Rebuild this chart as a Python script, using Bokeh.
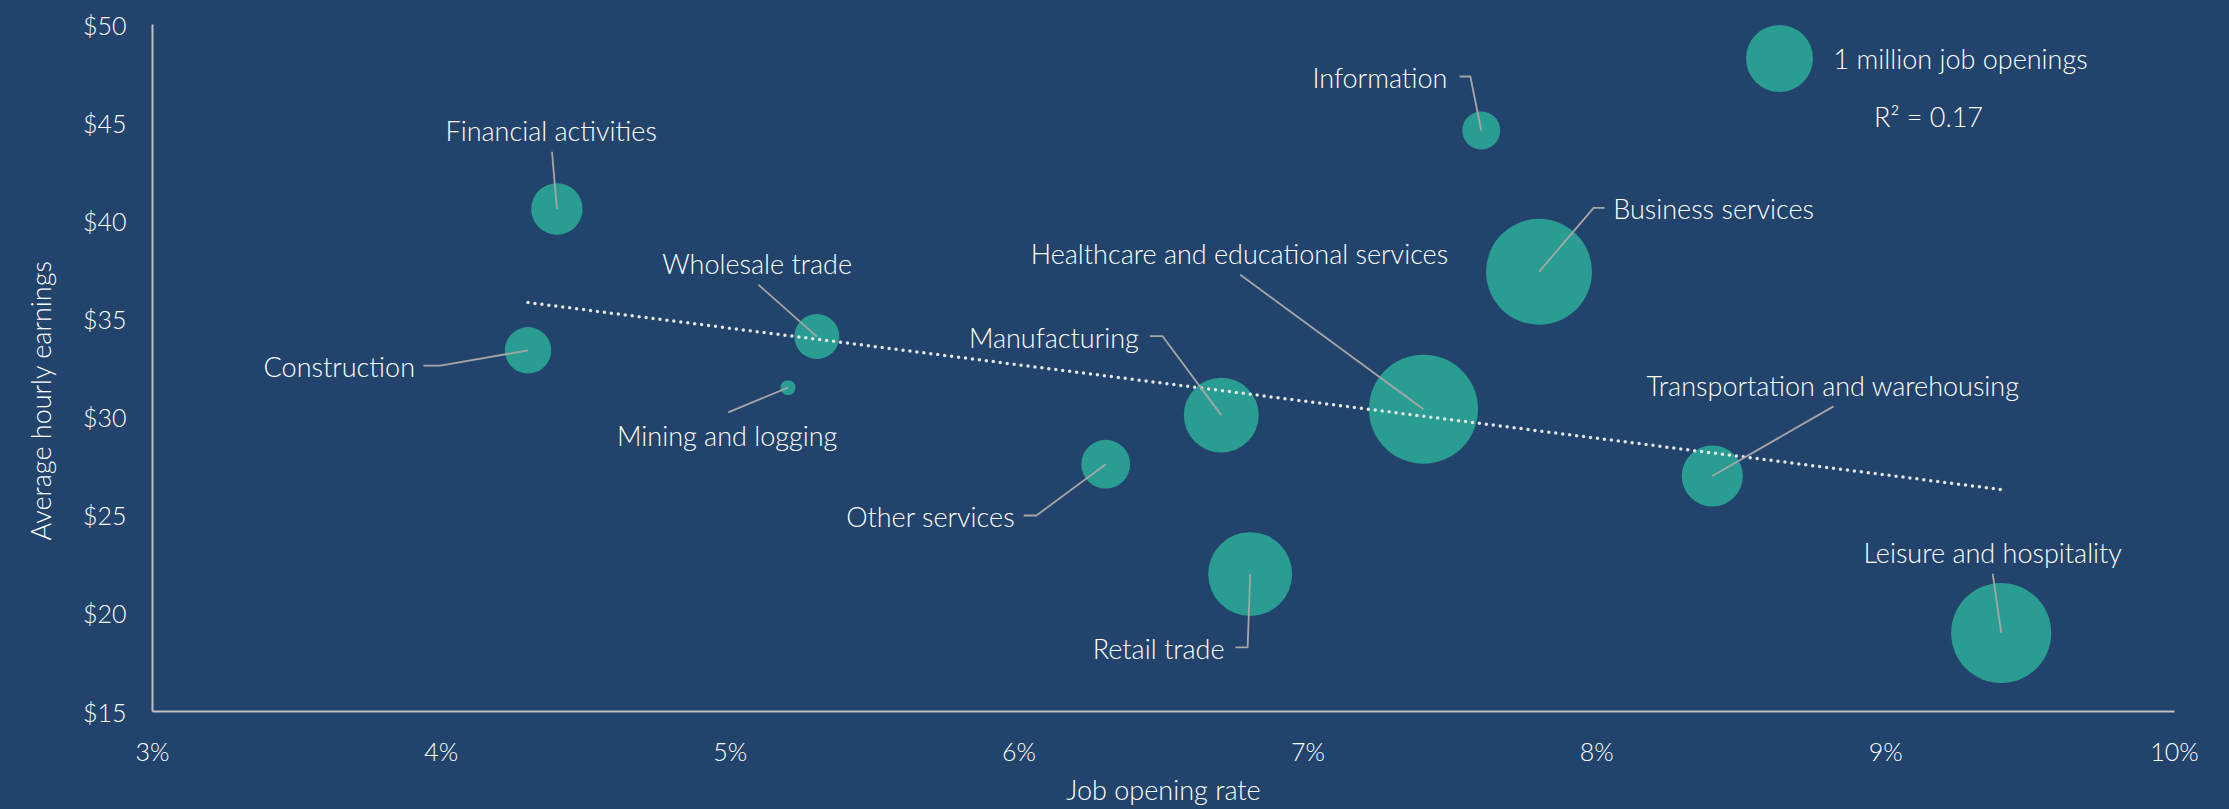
import numpy as np
from bokeh.plotting import figure
from bokeh.models import ColumnDataSource, LabelSet, Label, Range1d, Title
from bokeh.embed import file_html
from bokeh.resources import INLINE
from bokeh.core.properties import value

# ---------------- data ----------------
industries = ["Financial activities", "Construction", "Wholesale trade", "Mining and logging",
              "Other services", "Manufacturing", "Retail trade",
              "Healthcare and educational services", "Information", "Business services",
              "Transportation and warehousing", "Leisure and hospitality"]
job_opening_rate = [4.4, 4.3, 5.3, 5.2, 6.3, 6.7, 6.8, 7.4, 7.6, 7.8, 8.4, 9.4]          # %
hourly_earnings = [40.6, 33.4, 34.1, 31.5, 27.6, 30.1, 22.0, 30.4, 44.6, 37.4, 27.0, 19.0]  # $
job_openings_millions = [0.59, 0.48, 0.45, 0.05, 0.53, 1.25, 1.57, 2.65, 0.32, 2.50, 0.83, 2.23]

x_ticks = [3, 4, 5, 6, 7, 8, 9, 10]
x_tick_labels = ["3%", "4%", "5%", "6%", "7%", "8%", "9%", "10%"]
y_ticks = [15, 20, 25, 30, 35, 40, 45, 50]
y_tick_labels = ["$15", "$20", "$25", "$30", "$35", "$40", "$45", "$50"]

legend_openings = 1.0
legend_text = "1 million job openings"
r_squared_text = "R\u00b2 = 0.17"
x_title = "Job opening rate"
y_title = "Average hourly earnings"

# ---------------- layout / style ----------------
W, H = 2229, 809
F_LEFT, F_RIGHT, F_TOP, F_BOTTOM = 152, 2174, 24, 711
X0, X1, Y0, Y1 = 3, 10, 15, 50
PX_X = (F_RIGHT - F_LEFT) / (X1 - X0)
PX_Y = (F_BOTTOM - F_TOP) / (Y1 - Y0)
BUBBLE_PX_PER_SQRT_M = 67.0

BG = "#22446c"
BUBBLE = "#2a9d92"
TXT = "#ffffff"
AXIS = "#bfbfbf"
LEADER = "#a6a6a6"
FONT_NAME = "Lato Light, Lato"
FONT = value(FONT_NAME)
FS = "27px"
TICK_FS = "25px"

def dx2d(dx):
    return dx / PX_X

def dy2d(dy):
    return -dy / PX_Y

def sx2d(sx):  # canvas px -> data x
    return X0 + (sx - F_LEFT) / PX_X

def sy2d(sy):
    return Y1 - (sy - F_TOP) / PX_Y

# label centre offsets from bubble centre (px, y down)
label_dx = [-5.7, -188.7, -59.8, -60.8, -175, -167.4, -91.5, -184, -101.3, 174.6, 120.7, -8.5]
label_dy = [-79, 16.3, -73.3, 48, 52.3, -77.2, 74.3, -155.8, -52.7, -63.3, -90.3, -80.7]
# leader line vertices as offsets from bubble centre (px, y down)
leaders = [
    [(0, 0), (-4.9, -57.3)],
    [(0, 0), (-87.7, 15.3), (-104.7, 15.3)],
    [(0, 0), (-58.6, -52)],
    [(0, 0), (-59.8, 24.7)],
    [(0, 0), (-69.3, 51.3), (-82, 51.3)],
    [(0, 0), (-58.7, -78.9), (-71.4, -78.9)],
    [(0, 0), (-2.5, 73.3), (-14.8, 73.3)],
    [(0, 0), (-183.2, -134.5)],
    [(0, 0), (-10.9, -54), (-21.6, -54)],
    [(0, 0), (54.6, -64), (65.6, -64)],
    [(0, 0), (121.2, -69.6)],
    [(0, 0), (-8.5, -59.4)],
]

p = figure(width=W, height=H, x_range=Range1d(X0, X1), y_range=Range1d(Y0, Y1),
           output_backend="svg", toolbar_location=None,
           min_border_left=F_LEFT, min_border_right=W - F_RIGHT,
           min_border_top=F_TOP, min_border_bottom=H - F_BOTTOM)
p.background_fill_color = BG
p.border_fill_color = None
p.styles = {"background-color": BG}
p.outline_line_color = None
p.xgrid.visible = False
p.ygrid.visible = False

for ax in (p.xaxis, p.yaxis):
    ax.axis_line_color = AXIS
    ax.axis_line_width = 2
    ax.major_tick_line_color = None
    ax.minor_tick_line_color = None
    ax.major_tick_out = 0
    ax.major_tick_in = 0
    ax.major_label_text_color = TXT
    ax.major_label_text_font = FONT_NAME
    ax.major_label_text_font_size = TICK_FS
    ax.axis_label_text_color = TXT
    ax.axis_label_text_font = FONT_NAME
    ax.axis_label_text_font_size = FS
    ax.axis_label_text_font_style = "normal"
p.xaxis.ticker = x_ticks
p.yaxis.ticker = y_ticks
p.xaxis.major_label_overrides = dict(zip(x_ticks, x_tick_labels))
p.yaxis.major_label_overrides = dict(zip(y_ticks, y_tick_labels))
p.xaxis.major_label_standoff = 24
p.yaxis.major_label_standoff = 26
p.xaxis.axis_label = x_title
p.xaxis.axis_label_standoff = 4

# y-axis title as a side title, starting 171 px above the frame bottom
p.add_layout(Title(text=y_title, align="left", offset=171, standoff=42,
                   vertical_align="top",
                   text_color=TXT, text_font=FONT_NAME, text_font_size=FS,
                   text_font_style="normal"), "left")

# bubbles
src = ColumnDataSource(dict(
    x=job_opening_rate, y=hourly_earnings, name=industries,
    size=[BUBBLE_PX_PER_SQRT_M * np.sqrt(v) for v in job_openings_millions],
    lx=[a for a in label_dx], ly=[-b for b in label_dy],
))
p.scatter("x", "y", size="size", source=src, fill_color=BUBBLE, line_color=None)

# trend line (OLS fit)
xa = np.array(job_opening_rate)
ya = np.array(hourly_earnings)
slope, intercept = np.polyfit(xa, ya, 1)
tx = np.array([xa.min(), xa.max()])
p.line(tx, slope * tx + intercept, line_color="#e6e6e6", line_width=3.5,
       line_dash="0 7", line_cap="round")

# leader lines
lxs, lys = [], []
for xv, yv, path in zip(job_opening_rate, hourly_earnings, leaders):
    lxs.append([xv + dx2d(a) for a, b in path])
    lys.append([yv + dy2d(b) for a, b in path])
p.multi_line(lxs, lys, line_color=LEADER, line_width=1.8)

labels = LabelSet(x="x", y="y", text="name", source=src, x_offset="lx", y_offset="ly",
                  text_align="center", text_baseline="middle", text_color=TXT,
                  text_font=FONT, text_font_size=FS)
p.add_layout(labels)

def add_label(**kw):
    p.add_layout(Label(text_color=TXT, text_font=FONT_NAME, text_font_size=FS,
                       text_baseline="middle", **kw))

# legend bubble
LEG_SX, LEG_SY = 1779, 58
lgx, lgy = sx2d(LEG_SX), sy2d(LEG_SY)
p.scatter([lgx], [lgy], size=BUBBLE_PX_PER_SQRT_M * np.sqrt(legend_openings),
          fill_color=BUBBLE, line_color=None)
add_label(x=lgx, y=lgy, x_offset=54, y_offset=0, text=legend_text, text_align="left")
add_label(x=lgx, y=lgy, x_offset=149, y_offset=-58, text=r_squared_text, text_align="center")

open("out.html", "w").write(file_html(p, INLINE))
